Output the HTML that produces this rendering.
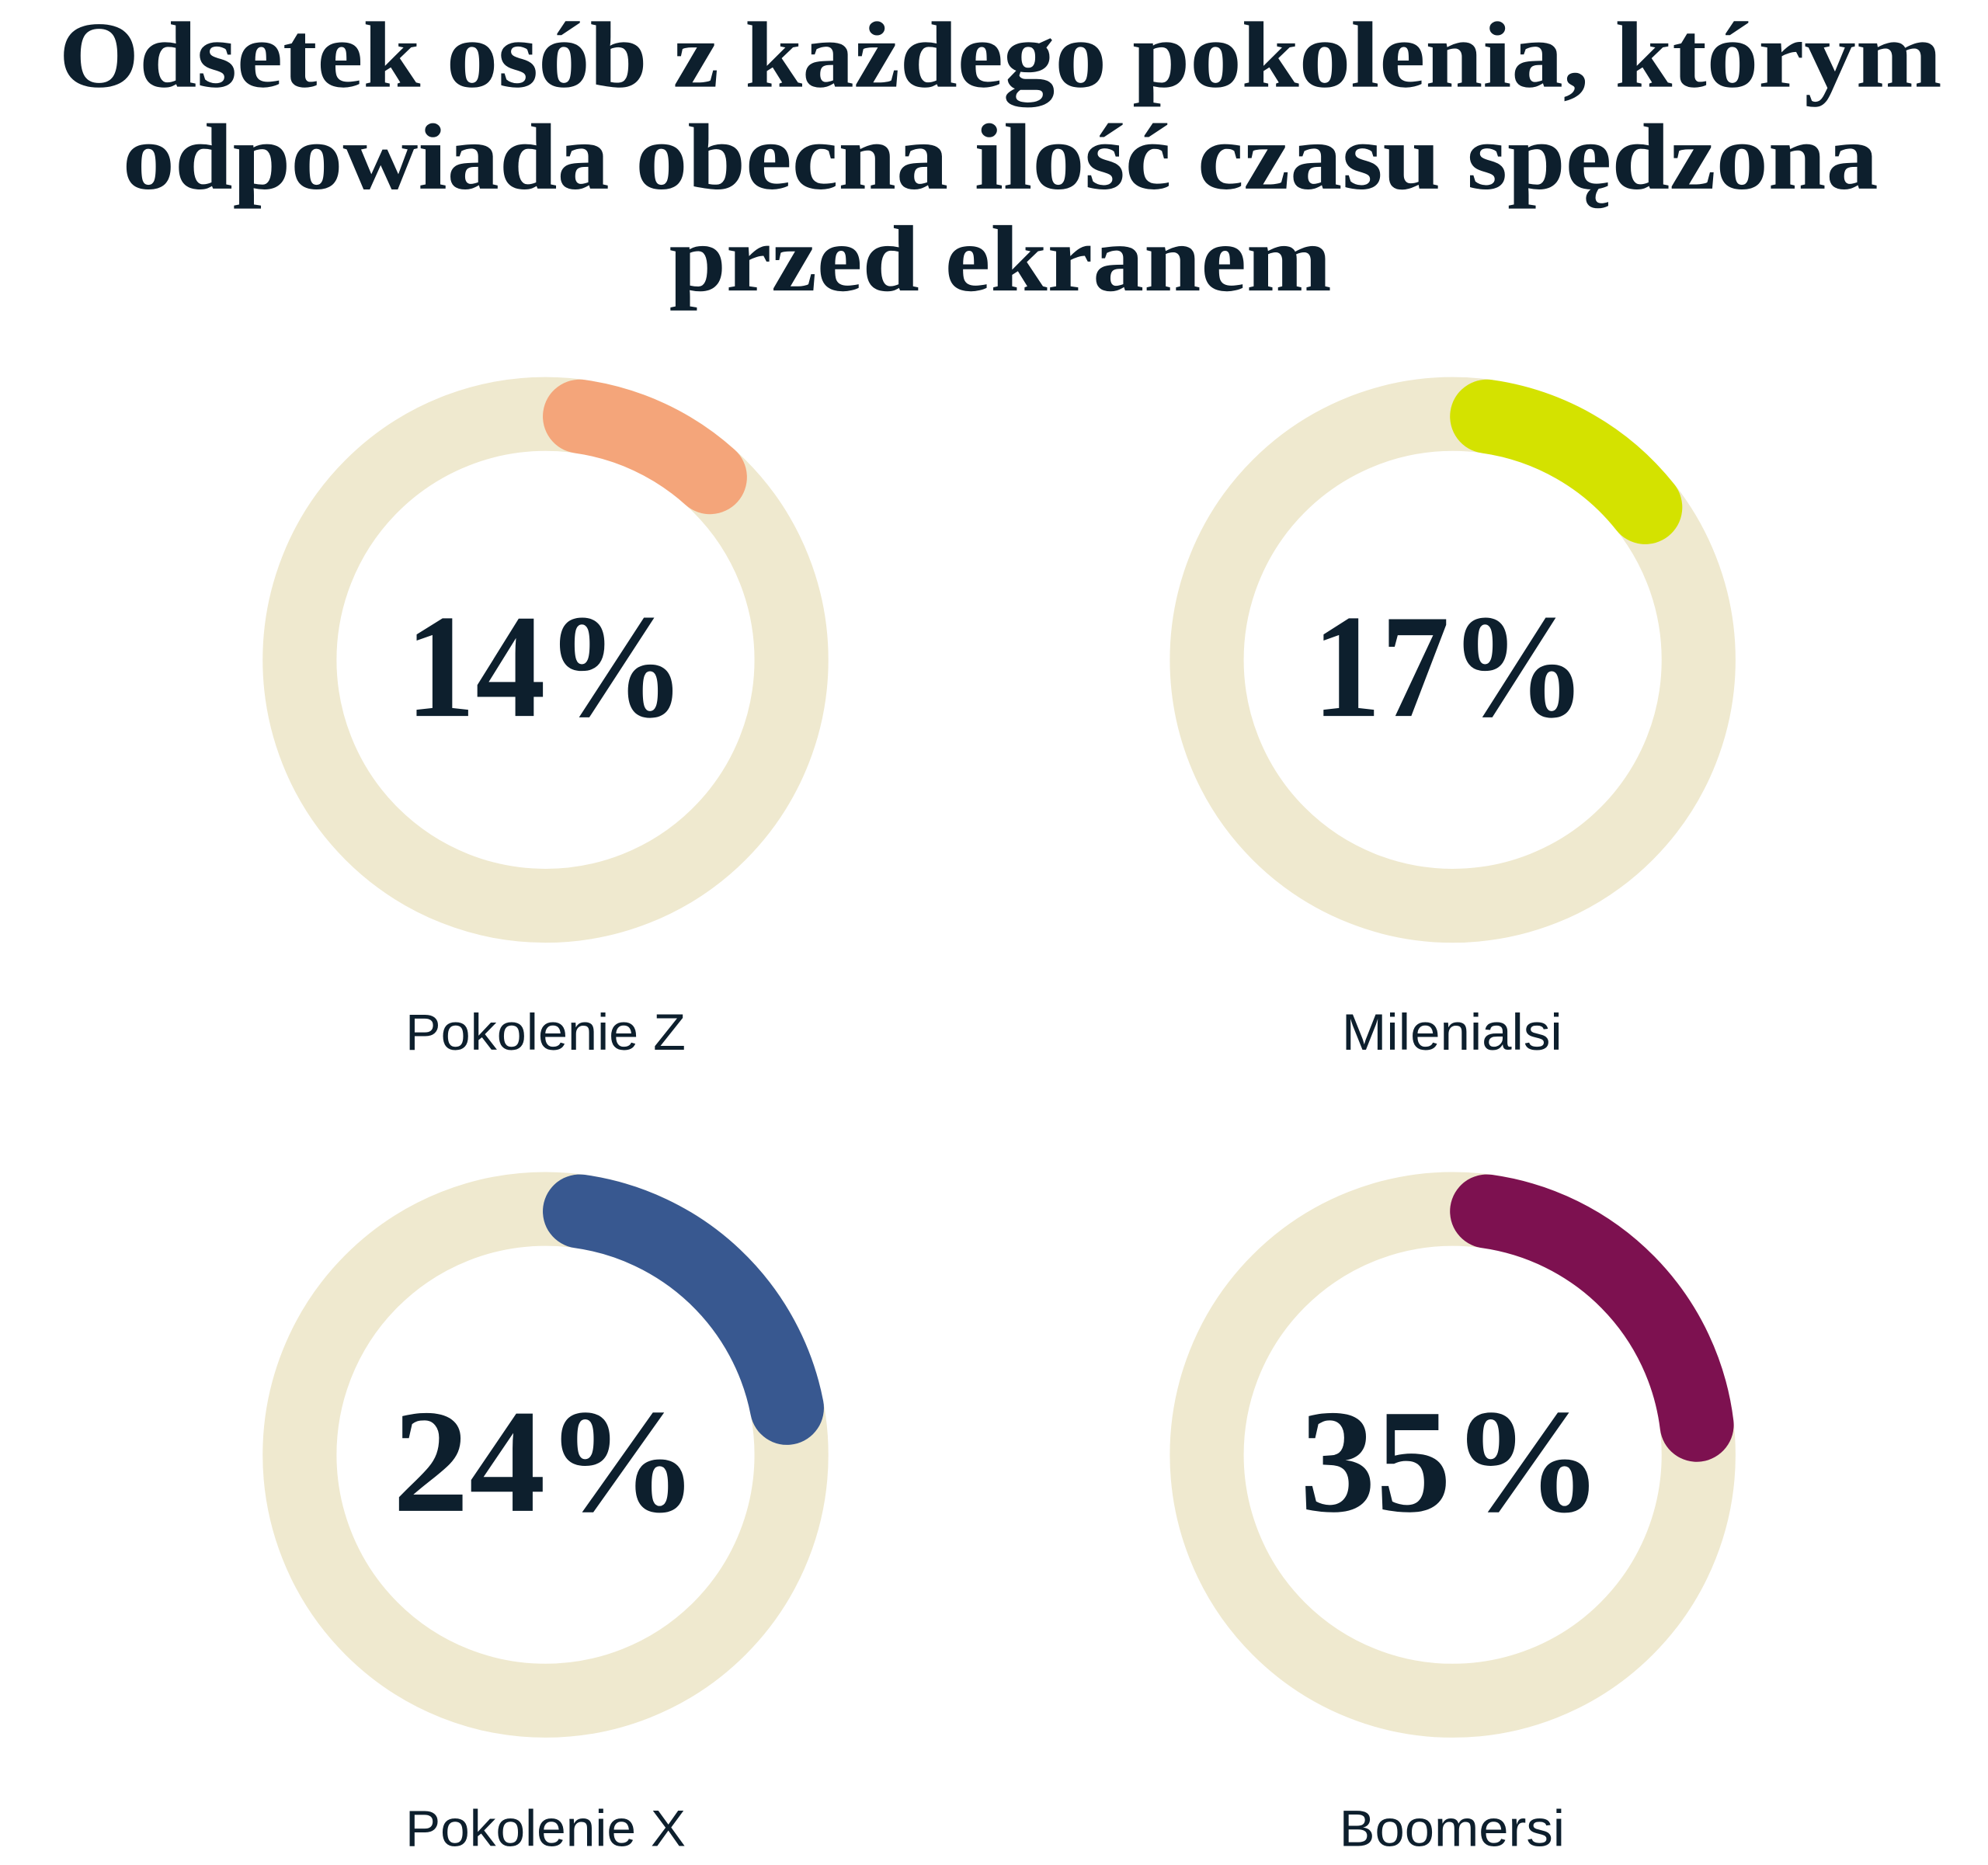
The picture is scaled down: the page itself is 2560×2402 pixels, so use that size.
<!DOCTYPE html>
<html><head><meta charset="utf-8"><style>
html,body{margin:0;padding:0;background:#fff;}
svg{display:block;}
</style></head><body>
<svg width="2560" height="2402" viewBox="0 0 1560 1464" xmlns="http://www.w3.org/2000/svg">
<g font-family="'Liberation Serif', serif" font-weight="bold" fill="#0d1f2d" text-anchor="middle" font-size="74">
<text x="785" y="68" textLength="1478" lengthAdjust="spacingAndGlyphs">Odsetek osób z każdego pokolenia, którym</text>
<text x="785" y="148" textLength="1378" lengthAdjust="spacingAndGlyphs">odpowiada obecna ilość czasu spędzona</text>
<text x="785" y="228" textLength="520" lengthAdjust="spacingAndGlyphs">przed ekranem</text>
</g>
<g fill="none" stroke="#efe9cf" stroke-width="58">
<circle cx="428" cy="518" r="193"/>
<circle cx="1140" cy="518" r="193"/>
<circle cx="428" cy="1142" r="193"/>
<circle cx="1140" cy="1142" r="193"/>
</g>
<g fill="none" stroke-width="58" stroke-linecap="round">
<path d="M454.9 326.9 A193 193 0 0 1 557.1 374.6" stroke="#f4a57a"/>
<path d="M1166.9 326.9 A193 193 0 0 1 1291.2 398.2" stroke="#d4e200"/>
<path d="M454.9 950.9 A193 193 0 0 1 617.5 1105.2" stroke="#385890"/>
<path d="M1166.9 950.9 A193 193 0 0 1 1331.6 1118.5" stroke="#7d1150"/>
</g>
<g font-family="'Liberation Serif', serif" font-weight="bold" fill="#0d1f2d" font-size="116">
<text x="318" y="562" textLength="220" lengthAdjust="spacingAndGlyphs">14%</text>
<text x="1030" y="562" textLength="215" lengthAdjust="spacingAndGlyphs">17%</text>
<text x="308" y="1186" textLength="240" lengthAdjust="spacingAndGlyphs">24%</text>
<text x="1020" y="1186" textLength="238" lengthAdjust="spacingAndGlyphs">35%</text>
</g>
<g font-family="'Liberation Sans', sans-serif" fill="#0d1f2d" font-size="40">
<text x="318" y="824" textLength="220" lengthAdjust="spacingAndGlyphs">Pokolenie Z</text>
<text x="1053" y="824" textLength="173" lengthAdjust="spacingAndGlyphs">Milenialsi</text>
<text x="318" y="1449" textLength="220" lengthAdjust="spacingAndGlyphs">Pokolenie X</text>
<text x="1051" y="1449" textLength="177" lengthAdjust="spacingAndGlyphs">Boomersi</text>
</g>
</svg>
</body></html>
